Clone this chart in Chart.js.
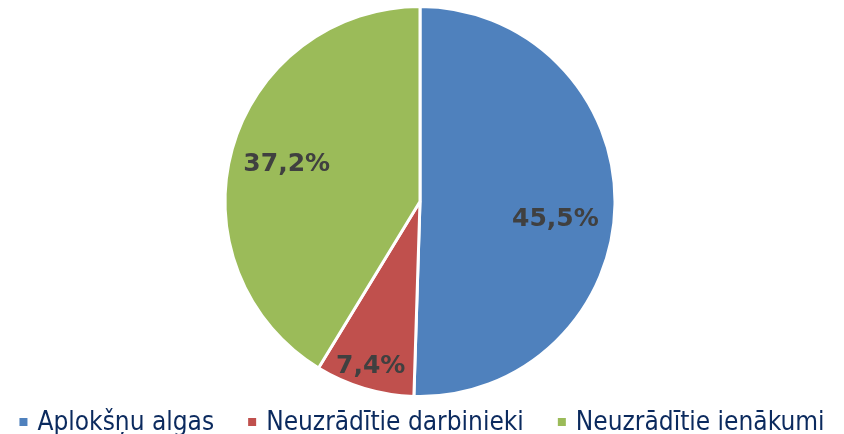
<!DOCTYPE html>
<html>
<head>
<meta charset="utf-8">
<script src="https://cdn.jsdelivr.net/npm/chart.js@4"></script>
<style>
  html, body { margin: 0; padding: 0; background: #fff; }
  #wrap { width: 844px; height: 434px; }
</style>
</head>
<body>
<div id="wrap"><canvas id="pieChart"></canvas></div>
<script>
const categories = ["Aplokšņu algas", "Neuzrādītie darbinieki", "Neuzrādītie ienākumi"];
const shares = [45.5, 7.4, 37.2];
const sliceColors = ["#4f81bd", "#c0504d", "#9bbb59"];

// label placement: fraction of radius, and a small turn (degrees) off the mid angle
const labelRadius = [0.7, 0.885, 0.71];
const labelTurn = [6.5, 0, 0];

const pieLabels = {
  id: "pieLabels",
  afterDatasetsDraw(chart) {
    const ctx = chart.ctx;
    const meta = chart.getDatasetMeta(0);
    ctx.save();
    ctx.font = "bold 25px 'DejaVu Sans'";
    ctx.fillStyle = "#404040";
    ctx.textAlign = "center";
    ctx.textBaseline = "middle";
    meta.data.forEach((arc, i) => {
      const mid = (arc.startAngle + arc.endAngle) / 2 + labelTurn[i] * Math.PI / 180;
      const r = arc.outerRadius * labelRadius[i];
      const x = arc.x + Math.cos(mid) * r;
      const y = arc.y + Math.sin(mid) * r;
      ctx.fillText(shares[i].toFixed(1).replace(".", ",") + "%", x, y);
    });
    ctx.restore();
  }
};

// legend drawn along the bottom edge, Excel style
const bottomLegend = {
  id: "bottomLegend",
  afterDraw(chart) {
    const ctx = chart.ctx;
    const box = 8, gap = 10, spacing = 34;
    ctx.save();
    ctx.font = "26px 'DejaVu Sans Condensed'";
    const widths = categories.map((c) => box + gap + ctx.measureText(c).width);
    const total = widths.reduce((a, b) => a + b, 0) + spacing * (categories.length - 1);
    let x = (chart.width - total) / 2;
    const baseline = 430;
    ctx.textAlign = "left";
    ctx.textBaseline = "alphabetic";
    categories.forEach((c, i) => {
      ctx.fillStyle = sliceColors[i];
      ctx.fillRect(x, baseline - 12, box, box);
      ctx.fillStyle = "#0b2a5e";
      ctx.fillText(c, x + box + gap, baseline);
      x += widths[i] + spacing;
    });
    ctx.restore();
  }
};

const ctx = document.getElementById("pieChart").getContext("2d");
new Chart(ctx, {
  type: "pie",
  data: {
    labels: categories,
    datasets: [{
      data: shares,
      backgroundColor: sliceColors,
      borderColor: "#ffffff",
      borderWidth: 3
    }]
  },
  options: {
    responsive: true,
    maintainAspectRatio: false,
    animation: false,
    layout: { padding: { top: 5, left: 0, right: 4, bottom: 36 } },
    plugins: {
      tooltip: { enabled: false },
      legend: { display: false }
    }
  },
  plugins: [pieLabels, bottomLegend]
});
</script>
</body>
</html>
